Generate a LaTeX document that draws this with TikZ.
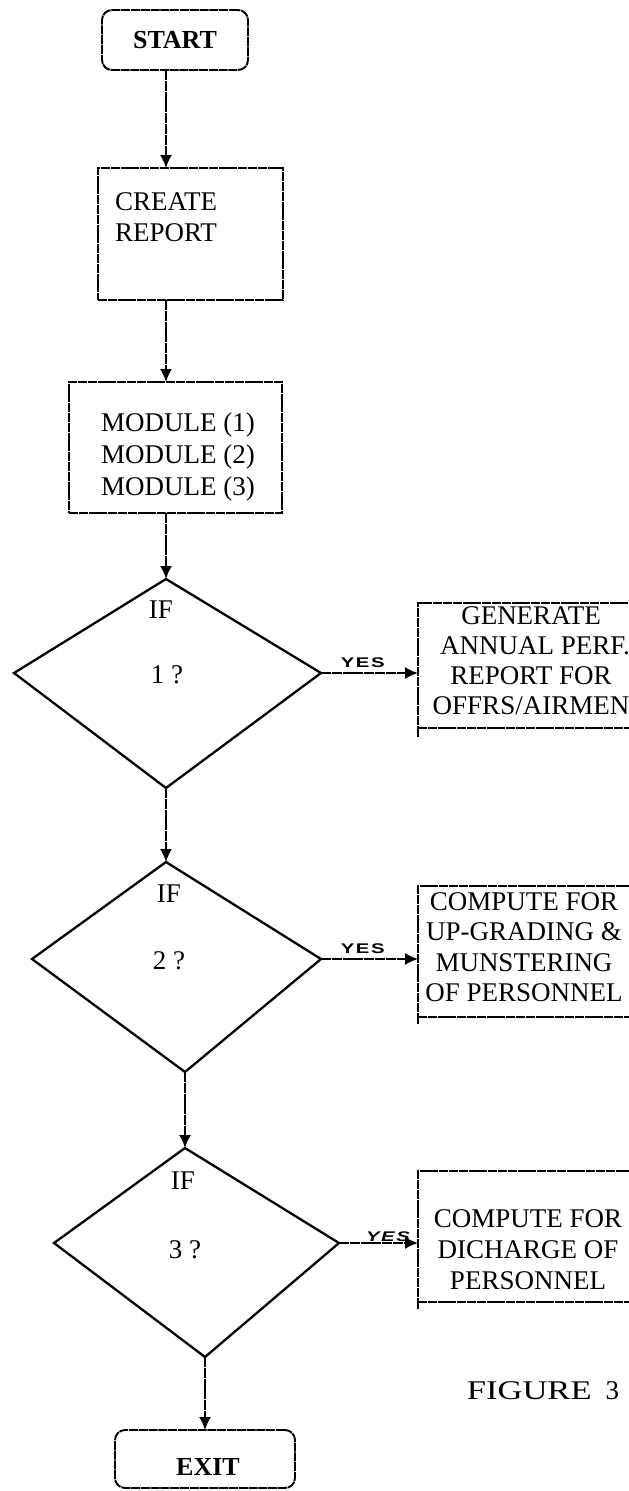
\documentclass[tikz,border=0pt]{standalone}
\usepackage{fontspec}
\setmainfont{Liberation Serif}
\newfontfamily\yesfont[LetterSpace=8]{Liberation Sans}
\usetikzlibrary{arrows.meta}

\tikzset{
  every node/.style={inner sep=0pt, outer sep=0pt},
  txt/.style={font=\fontsize{27}{31}\selectfont, align=center},
  termtxt/.style={font=\fontsize{26}{30}\selectfont\bfseries},
  terminal/.style={draw, line width=1.9pt, rounded corners=10pt, dash pattern=on 9pt off 0.8pt},
  procbox/.style={draw, line width=1.8pt, dash pattern=on 9pt off 0.8pt},
  decision/.style={draw, line width=2.3pt, line join=miter},
  flow/.style={line width=1.7pt, dash pattern=on 10pt off 0.8pt, -{Latex[length=13pt,width=12pt]}},
  yeslbl/.style={font=\yesfont\bfseries\fontsize{14}{14}\selectfont},
}

\begin{document}
\begin{tikzpicture}[x=1pt, y=-1pt]
\useasboundingbox (0,0) rectangle (629,1491);
\clip (0,0) rectangle (629,1491);

% main spine of the upper part
\coordinate (spine) at (166,0);

% terminals and process boxes
\node[terminal, termtxt, minimum width=146pt, minimum height=60pt] (start) at (175,40) {START};

\node[procbox, minimum width=185pt, minimum height=132pt, anchor=north west] (create) at (98,168) {};
\node[txt] (createtxt) at (166,217) {CREATE\\REPORT};

\node[procbox, minimum width=213pt, minimum height=131pt, anchor=north west] (module) at (69,382) {};
\node[txt, font=\fontsize{27}{32}\selectfont] (moduletxt) at (178,457) {MODULE (1)\\MODULE (2)\\MODULE (3)};

% decision 1
\coordinate (d1t) at (166,579);
\coordinate (d1l) at (14,673);
\coordinate (d1r) at (321,673);
\coordinate (d1b) at (166,788);
\draw[decision] (d1t) -- (d1r) -- (d1b) -- (d1l) -- cycle;
\node[txt] (if1) at (161,610) {IF};
\node[txt] (q1) at (167,675) {1 ?};

% decision 2
\coordinate (d2t) at (166,862);
\coordinate (d2l) at (32,959);
\coordinate (d2r) at (321,959);
\coordinate (d2b) at (185,1072);
\draw[decision] (d2t) -- (d2r) -- (d2b) -- (d2l) -- cycle;
\node[txt] (if2) at (169,894) {IF};
\node[txt] (q2) at (169,961) {2 ?};

% decision 3
\coordinate (d3t) at (185,1148);
\coordinate (d3l) at (54,1243);
\coordinate (d3r) at (339,1243);
\coordinate (d3b) at (205,1357);
\draw[decision] (d3t) -- (d3r) -- (d3b) -- (d3l) -- cycle;
\node[txt] (if3) at (183,1181) {IF};
\node[txt] (q3) at (185,1250) {3 ?};

% action boxes on the right
\node[procbox, minimum width=224pt, minimum height=125pt, anchor=north west] (gen) at (418,603) {};
\draw[procbox] (gen.south west) -- ++(0,9);
\node[txt, font=\fontsize{27}{30}\selectfont] (gentxt) at (531,661) {GENERATE\\\hspace*{8pt}ANNUAL PERF.\\REPORT FOR\\OFFRS/AIRMEN};

\node[procbox, minimum width=224pt, minimum height=131pt, anchor=north west] (comp) at (418,886) {};
\draw[procbox] (comp.south west) -- ++(0,7);
\node[txt, font=\fontsize{27}{30.5}\selectfont] (comptxt) at (524,947) {COMPUTE FOR\\UP-GRADING \&\\MUNSTERING\\OF PERSONNEL};

\node[procbox, minimum width=224pt, minimum height=131pt, anchor=north west] (disc) at (418,1171) {};
\draw[procbox] (disc.south west) -- ++(0,7);
\node[txt, font=\fontsize{27}{31}\selectfont] (disctxt) at (528,1250) {COMPUTE FOR\\DICHARGE OF\\PERSONNEL};

% exit terminal
\node[terminal, minimum width=180pt, minimum height=58pt] (exit) at (205,1459) {};
\node[termtxt] (exittxt) at (208,1467) {EXIT};

% caption
\node[font=\fontsize{27}{30}\selectfont] (caption) at (543,1391) {\scalebox{1.28}[1]{FIGURE}\hspace{14pt}3};

% connectors
\draw[flow] (start.south -| spine) -- (create.north -| spine);
\draw[flow] (create.south -| spine) -- (module.north -| spine);
\draw[flow] (module.south -| spine) -- (d1t);
\draw[flow] (d1b) -- (d2t);
\draw[flow] (d2b) -- (d3t);
\draw[flow] (d3b) -- (exit.north -| d3b);

\draw[flow] (d1r) -- (gen.west |- d1r) node[pos=0.43, above=5pt, yeslbl] (yes1) {\scalebox{1.45}[1]{YES}};
\draw[flow] (d2r) -- (comp.west |- d2r) node[pos=0.43, above=5pt, yeslbl] (yes2) {\scalebox{1.45}[1]{YES}};
\draw[flow] (d3r) -- (disc.west |- d3r) node[pos=0.62, above=1pt, yeslbl, font=\yesfont\bfseries\itshape\fontsize{14}{14}\selectfont] (yes3) {\scalebox{1.45}[1]{YES}};
\end{tikzpicture}
\end{document}
